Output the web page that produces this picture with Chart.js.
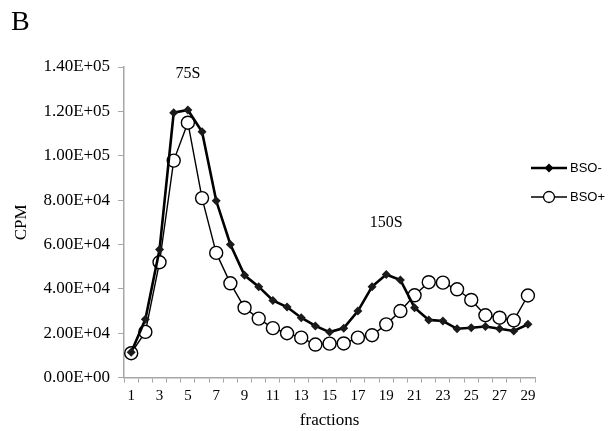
<!DOCTYPE html>
<html>
<head>
<meta charset="utf-8">
<script src="https://cdn.jsdelivr.net/npm/chart.js@4"></script>
<style>
  html, body { margin: 0; padding: 0; background: #fff; }
  #wrap { width: 612px; height: 431px; }
</style>
</head>
<body>
<div id="wrap"><canvas id="chart" width="612" height="431"></canvas></div>
<script>
const fractions = Array.from({ length: 29 }, (_, i) => String(i + 1));
const bsoMinus = [11400, 26300, 57700, 119400, 120600, 110800, 79700, 60000, 46100, 41000,
    34800, 31800, 27000, 23300, 20500, 22300, 30000, 41000, 46500, 44000,
    31500, 26000, 25500, 22000, 22500, 23000, 22000, 21000, 24000];
const bsoPlus = [11000, 20600, 52000, 97800, 114900, 80900, 56200, 42500, 31500, 26600,
    22300, 20000, 18000, 14900, 15300, 15400, 18000, 19100, 24000, 30000,
    37100, 43000, 42800, 39800, 35000, 28100, 27000, 25800, 37000];
const seriesNames = ['BSO-', 'BSO+'];
const peakLabels = [
    { text: '75S', fraction: '5', value: 137000 },
    { text: '150S', fraction: '19', value: 70000 }
];

const serif = '"Liberation Serif", "Times New Roman", serif';
const axisGray = '#a6a6a6';

function sciLabel(v) {
    if (v === 0) return '0.00E+00';
    const exp = Math.floor(Math.log10(v));
    const mant = v / Math.pow(10, exp);
    return mant.toFixed(2) + 'E+' + String(exp).padStart(2, '0');
}

// panel letter, peak notes and the excel style legend
const extras = {
    id: 'extras',
    afterDraw(chart) {
        const { ctx, scales } = chart;
        ctx.save();
        ctx.fillStyle = '#000';
        ctx.font = '28px ' + serif;
        ctx.textBaseline = 'top';
        ctx.textAlign = 'left';
        ctx.fillText('B', 11, 9);

        ctx.font = '16px ' + serif;
        ctx.textAlign = 'center';
        ctx.textBaseline = 'middle';
        for (const p of peakLabels) {
            ctx.fillText(p.text, scales.x.getPixelForValue(p.fraction), scales.y.getPixelForValue(p.value));
        }

        const rows = [
            { y: 168, width: 2.5, marker: 'diamond' },
            { y: 197, width: 1.3, marker: 'circle' }
        ];
        ctx.font = '13px "Liberation Sans", Arial, sans-serif';
        ctx.textAlign = 'left';
        rows.forEach((r, i) => {
            ctx.strokeStyle = '#000';
            ctx.lineWidth = r.width;
            ctx.beginPath();
            ctx.moveTo(531, r.y);
            ctx.lineTo(567, r.y);
            ctx.stroke();
            if (r.marker === 'diamond') {
                ctx.fillStyle = '#000';
                ctx.beginPath();
                ctx.moveTo(549, r.y - 4.5);
                ctx.lineTo(553.5, r.y);
                ctx.lineTo(549, r.y + 4.5);
                ctx.lineTo(544.5, r.y);
                ctx.closePath();
                ctx.fill();
            } else {
                ctx.fillStyle = '#fff';
                ctx.lineWidth = 1.3;
                ctx.beginPath();
                ctx.arc(549, r.y, 5.5, 0, Math.PI * 2);
                ctx.fill();
                ctx.stroke();
            }
            ctx.fillStyle = '#000';
            ctx.fillText(seriesNames[i], 570, r.y);
        });
        ctx.restore();
    }
};

new Chart(document.getElementById('chart').getContext('2d'), {
    type: 'line',
    data: {
        labels: fractions,
        datasets: [
            {
                label: seriesNames[0],
                data: bsoMinus,
                borderColor: '#000',
                backgroundColor: '#000',
                borderWidth: 2.6,
                pointStyle: 'rectRot',
                pointRadius: 4.5,
                pointBorderWidth: 0,
                pointBackgroundColor: '#1a1a1a',
                tension: 0
            },
            {
                label: seriesNames[1],
                data: bsoPlus,
                borderColor: '#000',
                backgroundColor: '#fff',
                borderWidth: 1.4,
                pointStyle: 'circle',
                pointRadius: 6.5,
                pointBorderWidth: 1.4,
                pointBackgroundColor: '#fff',
                tension: 0
            }
        ]
    },
    options: {
        responsive: false,
        animation: false,
        layout: { padding: { left: 11, right: 77, top: 67, bottom: 0 } },
        plugins: {
            legend: { display: false },
            tooltip: { enabled: false }
        },
        scales: {
            x: {
                offset: true,
                border: { color: axisGray, width: 1.5 },
                grid: { display: true, drawOnChartArea: false, offset: true, tickLength: 5, color: axisGray },
                ticks: {
                    autoSkip: false,
                    maxRotation: 0,
                    color: '#000',
                    font: { family: serif, size: 15 },
                    padding: 4,
                    callback: (v, i) => (i % 2 === 0 ? fractions[i] : '')
                },
                title: { display: true, text: 'fractions', color: '#000', font: { family: serif, size: 17 }, padding: { top: 2, bottom: 0 } }
            },
            y: {
                min: 0,
                max: 140000,
                border: { color: axisGray, width: 1.5 },
                grid: { display: true, drawOnChartArea: false, tickLength: 6, color: axisGray },
                ticks: {
                    stepSize: 20000,
                    color: '#000',
                    font: { family: serif, size: 17 },
                    padding: 8,
                    callback: v => sciLabel(v)
                },
                title: { display: true, text: 'CPM', color: '#000', font: { family: serif, size: 17 }, padding: { top: 0, bottom: 4 } }
            }
        }
    },
    plugins: [extras]
});
</script>
</body>
</html>
